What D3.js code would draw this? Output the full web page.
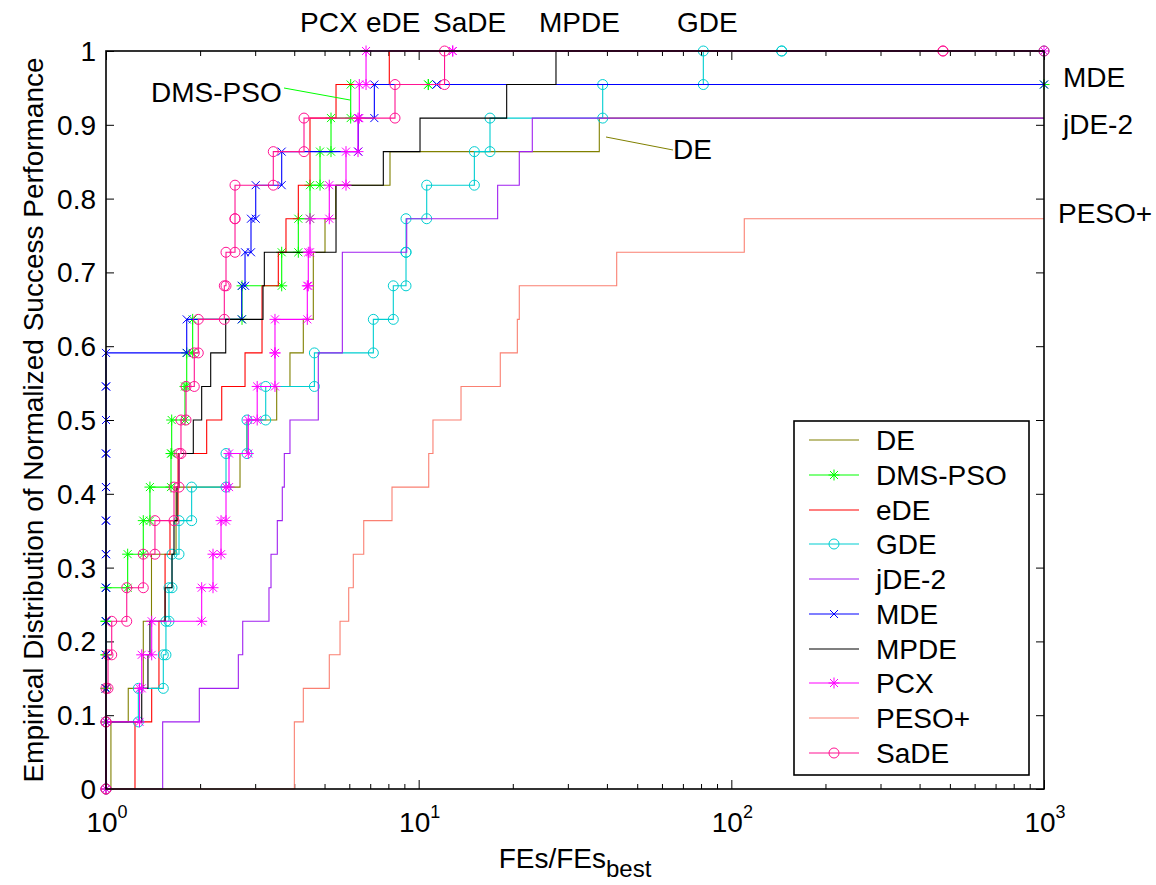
<!DOCTYPE html>
<html><head><meta charset="utf-8">
<script src="https://cdn.jsdelivr.net/npm/d3@7"></script>
<style>
body{margin:0;background:#fff;}
svg{font-family:Arial,"Liberation Sans",Helvetica,sans-serif;}
</style>
</head><body>
<svg id="c" width="1156" height="885"></svg>
<script>
// ---------------- data ----------------
const algorithms = ["DE","DMS-PSO","eDE","GDE","jDE-2","MDE","MPDE","PCX","PESO+","SaDE"];
const seriesColors = ["#808000","#00FF00","#FF0000","#00CED1","#A020F0","#0000FF","#000000","#FF00FF","#FA8072","#FF1493"];
const seriesMarkers = ["none","star","none","circle","none","x","none","star","none","circle"];
const nProblems = 22;

// FEs/FEs_best at each step (x) and cumulative number of solved problems (k)
const deX   = [1.037,1.178,1.316,1.398,1.675,2.683,2.824,3.515,3.876,4.276,4.603,5.017,5.429,8.097,37.82];
const deK   = [2,3,5,7,9,10,11,12,13,14,16,17,18,19,20];
const dmsX  = [1,1,1,1,1,1.173,1.316,1.382,1.614,1.622,1.789,1.812,1.893,2.723,3.647,4.122,4.492,4.836,5.244,6.062,10.735];
const dmsK  = [2,3,4,5,6,7,8,9,10,11,12,13,14,15,16,17,18,19,20,21,21];
const edeX  = [1.238,1.400,1.477,1.545,1.602,1.70,2.099,2.345,2.784,3.155,3.557,3.764,4.122,4.492,5.441,8.055];
const edeK  = [2,3,5,7,8,10,11,12,13,15,16,17,18,20,21,22];
const gdeX  = [1,1.269,1.525,1.555,1.59,1.626,1.712,1.879,2.420,2.824,3.242,4.64,7.162,8.296,9.11,9.11,10.61,15.07,16.91,38.78,81.36,144.9];
const gdeK  = [2,3,4,5,6,7,8,9,10,11,12,13,14,15,16,17,18,19,20,21,22,22];
const jdeX  = [1.518,1.988,2.650,2.737,3.321,3.371,3.531,3.663,3.718,3.876,4.775,5.700,9.157,17.89,20.98,23.09];
const jdeK  = [2,3,4,5,6,7,8,9,10,11,13,16,17,18,19,20];
const mdeX  = [1,1,1,1,1,1,1,1,1,1,1,1,1.812,2.717,2.784,2.909,3.012,3.647,6.411,7.215,11.42];
const mdeK  = [2,3,4,5,6,7,8,9,10,11,12,13,14,15,16,17,18,19,20,21,21];
const mpdeX = [1,1.301,1.362,1.382,1.545,1.626,1.650,1.687,1.712,1.902,2.023,2.162,2.415,3.178,3.209,5.441,7.708,10.10,19.12,27.49];
const mpdeK = [2,3,4,5,6,7,8,9,10,11,12,13,14,15,16,18,19,20,21,22];
const pcxX  = [1,1.28,1.301,1.400,2.023,2.199,2.333,2.42,2.474,2.852,3.045,3.471,3.471,4.404,4.436,4.492,5.178,5.856,6.397,6.459,6.787,12.85];
const pcxK  = [2,3,4,5,6,7,8,9,10,11,12,13,14,15,16,17,18,19,20,21,22,22];
const pesoX = [4.003,4.276,5.178,5.604,5.974,6.179,6.673,8.217,10.77,11.11,13.66,18.24,20.68,20.98,42.99,110.0];
const pesoK = [2,3,4,5,6,7,8,9,10,11,12,13,14,15,16,17];
const sadeX = [1,1,1.015,1.043,1.165,1.316,1.434,1.650,1.712,1.737,1.803,1.916,1.973,2.390,2.420,2.586,2.586,3.428,4.298,8.401,12.10,475.3];
const sadeK = [2,3,4,5,6,7,8,9,10,11,12,13,14,15,16,17,18,19,20,21,22,22];

const seriesX = [deX,dmsX,edeX,gdeX,jdeX,mdeX,mpdeX,pcxX,pesoX,sadeX];
const seriesK = [deK,dmsK,edeK,gdeK,jdeK,mdeK,mpdeK,pcxK,pesoK,sadeK];

const xMajorTicks = [1,10,100,1000];
const xMajorExp = ["0","1","2","3"];
const yTicks = [0,0.1,0.2,0.3,0.4,0.5,0.6,0.7,0.8,0.9,1];
const yTickLabels = ["0","0.1","0.2","0.3","0.4","0.5","0.6","0.7","0.8","0.9","1"];
const topLabels = ["PCX","eDE","SaDE","MPDE","GDE"];
const rightLabels = ["MDE","jDE-2","PESO+"];

// ---------------- layout ----------------
const L=106, R=1044, T=51, B=789;
const FS = 28;
const svg = d3.select("#c");
const x = d3.scaleLog().domain([1,1000]).range([L,R]);
const y = d3.scaleLinear().domain([0,1]).range([B,T]);

function txt(g, x0, y0, s, anchor, size){
  return g.append("text")
    .attr("x",x0).attr("y",y0)
    .attr("text-anchor",anchor||"start")
    .style("font-size",(size||FS)+"px")
    .attr("fill","#000")
    .text(s);
}

// minor ticks
const minor=[];
for(let d=1; d<1000; d*=10) for(let m=2;m<=9;m++) minor.push(d*m);

const axG = svg.append("g");
axG.append("g").attr("transform",`translate(0,${B})`)
  .call(d3.axisBottom(x).tickValues(minor).tickSize(-5).tickFormat(""));
axG.append("g").attr("transform",`translate(0,${B})`)
  .call(d3.axisBottom(x).tickValues(xMajorTicks).tickSize(-9).tickFormat(""));
axG.append("g").attr("transform",`translate(0,${T})`)
  .call(d3.axisTop(x).tickValues(minor).tickSize(-5).tickFormat(""));
axG.append("g").attr("transform",`translate(0,${T})`)
  .call(d3.axisTop(x).tickValues(xMajorTicks).tickSize(-9).tickFormat(""));
axG.append("g").attr("transform",`translate(${L},0)`)
  .call(d3.axisLeft(y).tickValues(yTicks).tickSize(-8).tickFormat(""));
axG.append("g").attr("transform",`translate(${R},0)`)
  .call(d3.axisRight(y).tickValues(yTicks).tickSize(-8).tickFormat(""));
axG.selectAll(".domain").remove();
axG.selectAll(".tick line").attr("stroke","#000").attr("stroke-width",1);

// series
const line = d3.line().x(d=>x(d[0])).y(d=>y(d[1]/nProblems));
function verts(xs,ks){
  const v=[[1,0]]; let prev=0;
  xs.forEach((xv,i)=>{ v.push([xv,prev]); v.push([xv,ks[i]]); prev=ks[i]; });
  v.push([1000,prev]);
  return v;
}
function drawMarkers(g, pts, type, c){
  if(type==="none") return;
  const mg = g.append("g").attr("stroke",c).attr("fill","none").attr("stroke-width",1);
  pts.forEach(([px,py])=>{
    if(type==="circle"){
      mg.append("circle").attr("cx",px).attr("cy",py).attr("r",5);
    } else if(type==="x"){
      const r=4;
      mg.append("path").attr("d",`M${px-r},${py-r}L${px+r},${py+r}M${px-r},${py+r}L${px+r},${py-r}`);
    } else if(type==="star"){
      const r=5.5, q=4;
      mg.append("path").attr("d",`M${px-r},${py}L${px+r},${py}M${px},${py-r}L${px},${py+r}M${px-q},${py-q}L${px+q},${py+q}M${px-q},${py+q}L${px+q},${py-q}`);
    }
  });
}
const plotG = svg.append("g");
algorithms.forEach((name,i)=>{
  const v = verts(seriesX[i],seriesK[i]);
  const c = seriesColors[i];
  plotG.append("path").attr("d",line(v)).attr("fill","none")
    .attr("stroke",c).attr("stroke-width",1.1);
  drawMarkers(plotG, v.map(d=>[x(d[0]),y(d[1]/nProblems)]), seriesMarkers[i], c);
});

// axes box
svg.append("rect").attr("x",L).attr("y",T).attr("width",R-L).attr("height",B-T)
  .attr("fill","none").attr("stroke","#000").attr("stroke-width",1.6);

// tick labels
const tl = svg.append("g");
yTicks.forEach((v,i)=>{ txt(tl, 96, y(v)+10, yTickLabels[i], "end"); });
xMajorTicks.forEach((v,i)=>{
  const t = txt(tl, x(v)+1, 832, "10", "middle");
  t.append("tspan").attr("dy",-14).style("font-size","18px").text(xMajorExp[i]);
});

// axis titles
const xt = txt(svg, (L+R)/2, 868, "FEs/FEs", "middle");
xt.append("tspan").attr("dy",9).style("font-size","24px").text("best");
svg.append("text").attr("transform",`translate(43,${(T+B)/2}) rotate(-90)`)
  .attr("text-anchor","middle").style("font-size","28px").text("Empirical Distribution of Normalized Success Performance");

// annotations
const an = svg.append("g");
const topX = [300,366,433,539,677];
topLabels.forEach((s,i)=>txt(an, topX[i], 31.5, s, "start"));
const rightY = [87,134,223];
const rightXs = [1063,1063,1058];
rightLabels.forEach((s,i)=>txt(an, rightXs[i], rightY[i], s, "start"));
txt(an, 673, 158.5, "DE", "start");
txt(an, 151, 102, "DMS-PSO", "start");
an.append("line").attr("x1",284).attr("y1",88).attr("x2",350).attr("y2",100).attr("stroke","#00FF00").attr("stroke-width",1);
an.append("line").attr("x1",606).attr("y1",137).attr("x2",673).attr("y2",150).attr("stroke","#808000").attr("stroke-width",1);

// legend
const lg = svg.append("g");
lg.append("rect").attr("x",794).attr("y",421).attr("width",235).attr("height",354)
  .attr("fill","#fff").attr("stroke","#000").attr("stroke-width",1.6);
algorithms.forEach((name,i)=>{
  const ly = Math.round(440 + i*34.75);
  lg.append("line").attr("x1",809).attr("x2",859).attr("y1",ly).attr("y2",ly)
    .attr("stroke",seriesColors[i]).attr("stroke-width",1.2);
  drawMarkers(lg, [[834,ly]], seriesMarkers[i], seriesColors[i]);
  txt(lg, 876, ly+10, name, "start");
});
</script>
</body></html>
